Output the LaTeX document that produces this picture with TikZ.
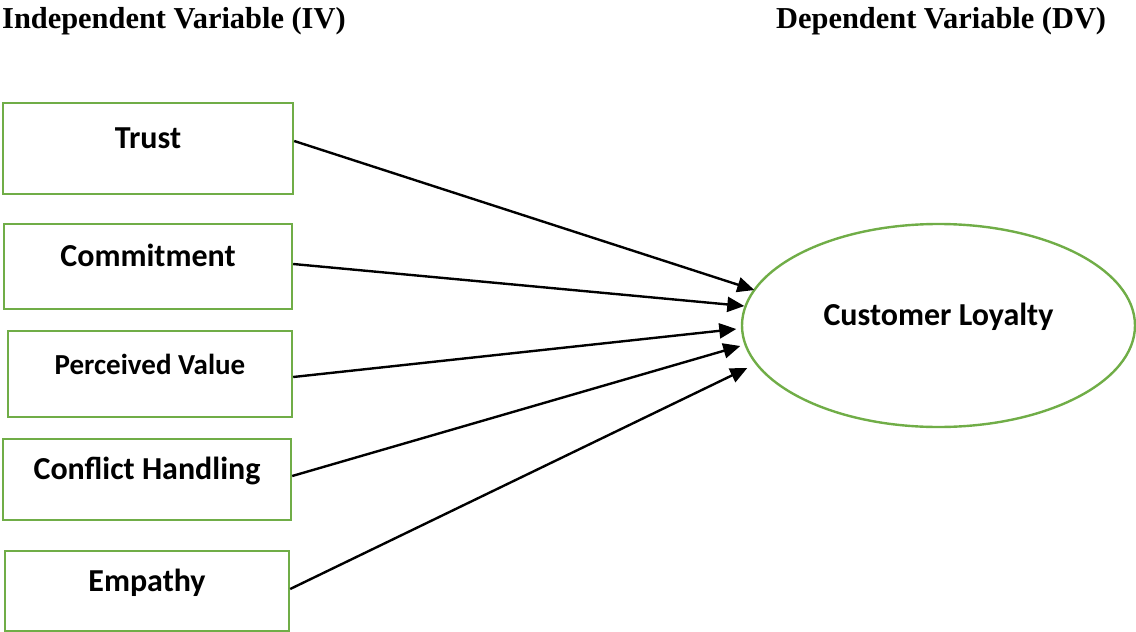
\documentclass[tikz,border=0pt]{standalone}
\usepackage{fontspec}
\setmainfont{Carlito}
\newfontfamily\titlefont{Liberation Serif}
\usetikzlibrary{arrows.meta,shapes.geometric}
\definecolor{boxgreen}{HTML}{70AD47}
\tikzset{
  varbox/.style={draw=boxgreen, line width=2.4pt, rectangle, inner sep=0pt,
    text height=0pt, text depth=0pt, font=\bfseries\fontsize{32}{38}\selectfont},
  dvellipse/.style={draw=boxgreen, line width=2.4pt, ellipse, inner sep=0pt,
    minimum width=393pt, minimum height=203pt,
    text height=0pt, text depth=0pt, font=\bfseries\fontsize{32}{38}\selectfont},
  heading/.style={anchor=base west, inner sep=0pt, font=\titlefont\bfseries\fontsize{30.4}{36}\selectfont},
  link/.style={line width=2.4pt, -{Triangle[length=17pt,width=15pt]}}
}
\begin{document}
\begin{tikzpicture}[x=1pt,y=-1pt]
\useasboundingbox (0,0) rectangle (1136,632);
\node[heading] (ivtitle) at (2,28) {Independent Variable (IV)};
\node[heading] (dvtitle) at (776,28) {Dependent Variable (DV)};

\node[varbox, minimum width=290pt, minimum height=91pt] (trust) at (148,148.5) {Trust};
\node[varbox, minimum width=288pt, minimum height=85pt] (commit) at (148,266.5) {Commitment};
\node[varbox, minimum width=284pt, minimum height=86pt, font=\bfseries\fontsize{29}{35}\selectfont] (perc) at (150,374) {Perceived Value};
\node[varbox, minimum width=288pt, minimum height=81pt] (conf) at (147,479.5) {Conflict Handling};
\node[varbox, minimum width=284pt, minimum height=80pt] (emp) at (147,591) {Empathy};

\node[dvellipse] (cl) at (938.5,325.5) {Customer Loyalty};

\draw[link] ([shift={(0,-7.5)}]trust.east) -- ([shift={(13.5,-35.5)}]cl.west);
\draw[link] ([shift={(0,-2.5)}]commit.east) -- ([shift={(3.5,-19.5)}]cl.west);
\draw[link] ([shift={(0,3)}]perc.east) -- ([shift={(-4.5,3.5)}]cl.west);
\draw[link] ([shift={(0,-3.5)}]conf.east) -- ([shift={(-0.5,20.5)}]cl.west);
\draw[link] ([shift={(0,-2)}]emp.east) -- ([shift={(6.5,42.5)}]cl.west);
\end{tikzpicture}
\end{document}
